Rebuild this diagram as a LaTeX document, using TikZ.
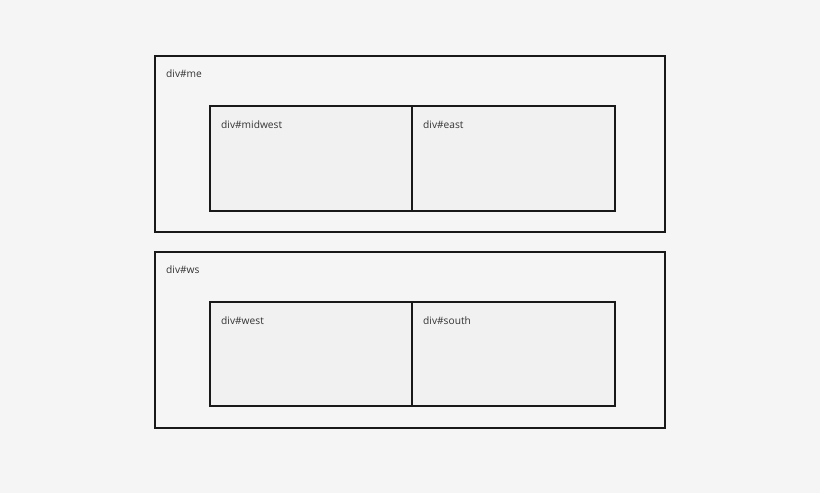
\documentclass[tikz,border=0pt]{standalone}
\usepackage{fontspec}
\setmainfont{Open Sans}
\definecolor{bg}{HTML}{F5F5F5}
\definecolor{innerfill}{HTML}{F1F1F1}
\definecolor{txt}{HTML}{333333}
\begin{document}
\begin{tikzpicture}[x=1pt,y=-1pt,
  outerbox/.style={draw=black!90,line width=2pt,fill=bg},
  innerbox/.style={draw=black!90,line width=2pt,fill=innerfill},
  lbl/.style={anchor=west,font=\fontsize{10.2}{12}\selectfont,text=txt,inner sep=0pt}]
\fill[bg] (0,0) rectangle (820,493);
\useasboundingbox (0,0) rectangle (820,493);
% top group
\draw[outerbox] (155,55.5) rectangle (665,231.5);
\node[lbl] (me) at (166,74) {div\#me};
\draw[innerbox] (210,105.5) rectangle (412,210.5);
\draw[innerbox] (412,105.5) rectangle (614.5,210.5);
\node[lbl] (midwest) at (221,125) {div\#midwest};
\node[lbl] (east) at (423,125) {div\#east};
% bottom group
\draw[outerbox] (155,251.5) rectangle (665,428);
\node[lbl] (ws) at (166,270) {div\#ws};
\draw[innerbox] (210,301.5) rectangle (412,406);
\draw[innerbox] (412,301.5) rectangle (614.5,406);
\node[lbl] (west) at (221,321) {div\#west};
\node[lbl] (south) at (423,321) {div\#south};
\end{tikzpicture}
\end{document}
